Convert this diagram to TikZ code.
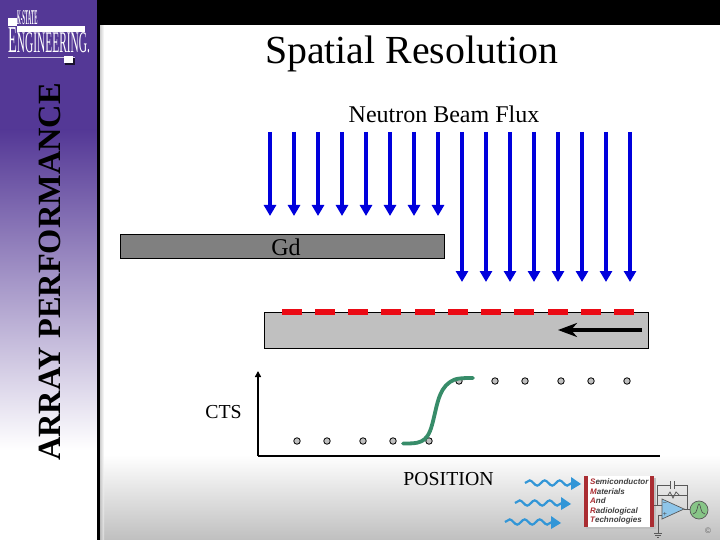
\documentclass[tikz,border=0pt]{standalone}
\usepackage{fontspec}
\setmainfont{Liberation Serif}
\newfontfamily\sfb{Liberation Sans}[Scale=1]
\usetikzlibrary{arrows.meta,decorations.pathmorphing,shapes.geometric}
\definecolor{ksu}{RGB}{84,56,150}
\definecolor{slab}{RGB}{192,192,192}
\definecolor{gdgrey}{RGB}{128,128,128}
\definecolor{beam}{RGB}{0,0,220}
\definecolor{pads}{RGB}{235,10,20}
\definecolor{curve}{RGB}{55,140,105}
\definecolor{wavy}{RGB}{50,150,215}
\definecolor{smartred}{RGB}{170,45,50}
\tikzset{
 x=1pt,y=-1pt,
 beamarrow/.style={draw=beam,line width=3.3pt,-{Triangle[length=11pt,width=12pt]}},
 slabbox/.style={draw=black,line width=0.9pt,anchor=north west,inner sep=0pt,outer sep=0pt},
 pad/.style={fill=pads,draw=none},
 dot/.style={circle,draw=black,fill=slab,line width=0.8pt,minimum size=6.5pt,inner sep=0pt},
 axisline/.style={draw=black,line width=1.6pt},
 lbl/.style={inner sep=0pt,text=black,anchor=base,font=\fontsize{24}{26}\selectfont},
 sublbl/.style={inner sep=0pt,text=black,anchor=base,font=\fontsize{19.8}{22}\selectfont},
 wave/.style={draw=wavy,line width=2.2pt,decorate,decoration={snake,amplitude=2.6pt,segment length=15pt}},
 wavehead/.style={fill=wavy,draw=none},
 smalltxt/.style={font=\sfb\bfseries\itshape\fontsize{8}{8}\selectfont,anchor=west,inner sep=0pt,text=black!75},
 smartline/.style={draw=black!65,line width=0.7pt},
}
\begin{document}
\begin{tikzpicture}
\useasboundingbox (0,0) rectangle (720,540);
% background
\fill[white] (0,0) rectangle (720,540);
\shade[top color=white,bottom color=black!25] (100,455) rectangle (720,540);
\shade[left color=black!30,right color=white,opacity=0.6] (100,25) rectangle (104,540);
\fill[black] (97,0) rectangle (720,25);
\fill[ksu] (0,0) rectangle (96.5,130);
\shade[top color=ksu,bottom color=white] (0,130) rectangle (96.5,450);
\fill[black] (96.5,0) rectangle (100,540);
% logo
\node[text=white,inner sep=0pt,anchor=base west,xscale=0.23,font=\bfseries\fontsize{21}{21}\selectfont] (kstate) at (17,25) {K-STATE};
\node[text=white,inner sep=0pt,anchor=base west,xscale=0.38,font=\fontsize{38}{38}\selectfont] (eng) at (8,53) {E\fontsize{30}{30}\selectfont NGINEERING.};
\fill[white] (8,18) rectangle (16.5,26);
\fill[white] (17,26) rectangle (85,32);
\fill[white!70!ksu] (8,57.5) rectangle (75,58.5);
\fill[black!70!ksu] (65,58) rectangle (75,65);
\fill[white] (64,56) rectangle (73,63);
% side label
\node[rotate=90,anchor=base,text=black,inner sep=0pt,font=\bfseries\fontsize{32.4}{34}\selectfont] (side) at (60,272) {ARRAY PERFORMANCE};
% titles
\node[inner sep=0pt,anchor=base,text=black,font=\fontsize{39.8}{42}\selectfont] (title) at (411.5,64) {Spatial Resolution};
\node[lbl] (flux) at (444,123) {Neutron Beam Flux};
% beam arrows
\foreach \i [evaluate=\i as \xx using 270+24*\i] in {0,...,7}
  {\coordinate (a\i) at (\xx,132); \coordinate (b\i) at (\xx,216); \draw[beamarrow] (a\i) -- (b\i);}
\foreach \i [evaluate=\i as \xx using 462+24*\i] in {0,...,7}
  {\coordinate (c\i) at (\xx,132); \coordinate (d\i) at (\xx,282); \draw[beamarrow] (c\i) -- (d\i);}
% Gd bar
\node[slabbox,fill=gdgrey,minimum width=324pt,minimum height=24pt] (gd) at (120.5,234.5) {};
\node[lbl] (gdl) at (286,255) {Gd};
% slab
\node[slabbox,fill=slab,minimum width=384pt,minimum height=36pt] (slab) at (264.5,312.5) {};
\foreach \xa in {282,315,348,381,415,448,481,514,548,581,614}
  {\fill[pad] (\xa,309) rectangle ++(19.5,6);}
\coordinate (arrs) at (642,330); \coordinate (arre) at (558,330);
\draw[line width=3.4pt,black,-{Stealth[length=19pt,width=14pt,inset=6pt]}] (arrs) -- (arre);
% axes
\coordinate (orig) at (258,456); \coordinate (ytop) at (258,371); \coordinate (xend) at (660,456);
\draw[axisline,-{Triangle[length=6pt,width=6pt]}] (orig) -- (ytop);
\draw[axisline] (orig) -- (xend);
\node[sublbl] (cts) at (223.5,418) {CTS};
\node[sublbl] (pos) at (448.5,485) {POSITION};
% points
\foreach \xx in {297,327,363,393,429} \node[dot] at (\xx,441) {};
\foreach \xx in {459,495,525,561,591,627} \node[dot] at (\xx,381) {};
% curve
\draw[curve,line width=3.8pt,line cap=round] (403,443.5) .. controls (418,443.5) and (427,444) .. (432,425)
  .. controls (437,407) and (438,390) .. (450,382) .. controls (455,378) and (463,378) .. (473,378);
% SMART logo
\foreach \sx/\sy in {525/483,515/503,505/522}{
  \draw[wave] (\sx,\sy) -- ++(48,0);
  \fill[wavehead] (\sx+46,\sy-6) -- (\sx+56,\sy+1) -- (\sx+46,\sy+7) -- cycle;
}
\fill[black!25] (586,478) rectangle (656,529);
\fill[white] (584,476) rectangle (654,527);
\fill[smartred] (584,476) rectangle (588,527);
\fill[smartred] (650,476) rectangle (654,527);
\foreach \ty/\fl/\rest in {482/S/emiconductor,492/M/aterials,501/A/nd,511/R/adiological,520/T/echnologies}
  \node[smalltxt] at (590,\ty) {\textcolor{smartred}{\fl}\rest};
\draw[smartline] (654,505) -- (662,505) (657.5,505) -- (657.5,495) -- (687,495) -- (687,510);
\draw[smartline] (657.5,495) -- (657.5,485) -- (670,485) (674,485) -- (687,485) -- (687,495);
\draw[smartline] (670,481) -- (670,489) (674,481) -- (674,489);
\draw[smartline] (668,495) -- (670,492) -- (673,498) -- (676,492) -- (679,495);
\draw[fill=wavy!55,draw=black!65,line width=0.7pt] (662,499) -- (684,509) -- (662,519) -- cycle;
\draw[smartline] (684,509) -- (690,509);
\draw[smartline] (662,515) -- (658,515) -- (658,533) (654,533) -- (662,533) (655,535) -- (661,535) (657,537) -- (659,537);
\node[inner sep=0pt,text=black!70,font=\sfb\fontsize{7}{7}\selectfont] (minus) at (665,504) {−};
\node[inner sep=0pt,text=black!70,font=\sfb\fontsize{7}{7}\selectfont] (plus) at (665,514.5) {+};
\draw[fill=green!35!gray!70,draw=black!65,line width=0.7pt] (699,510) circle (9pt);
\draw[black!70,line width=0.6pt] (693,514) .. controls (698,514) and (697,504) .. (699,504) .. controls (701,504) and (700,514) .. (705,514);
\node[inner sep=0pt,text=black!60,font=\sfb\fontsize{8}{8}\selectfont] (copyr) at (708,531) {©};
\end{tikzpicture}
\end{document}
